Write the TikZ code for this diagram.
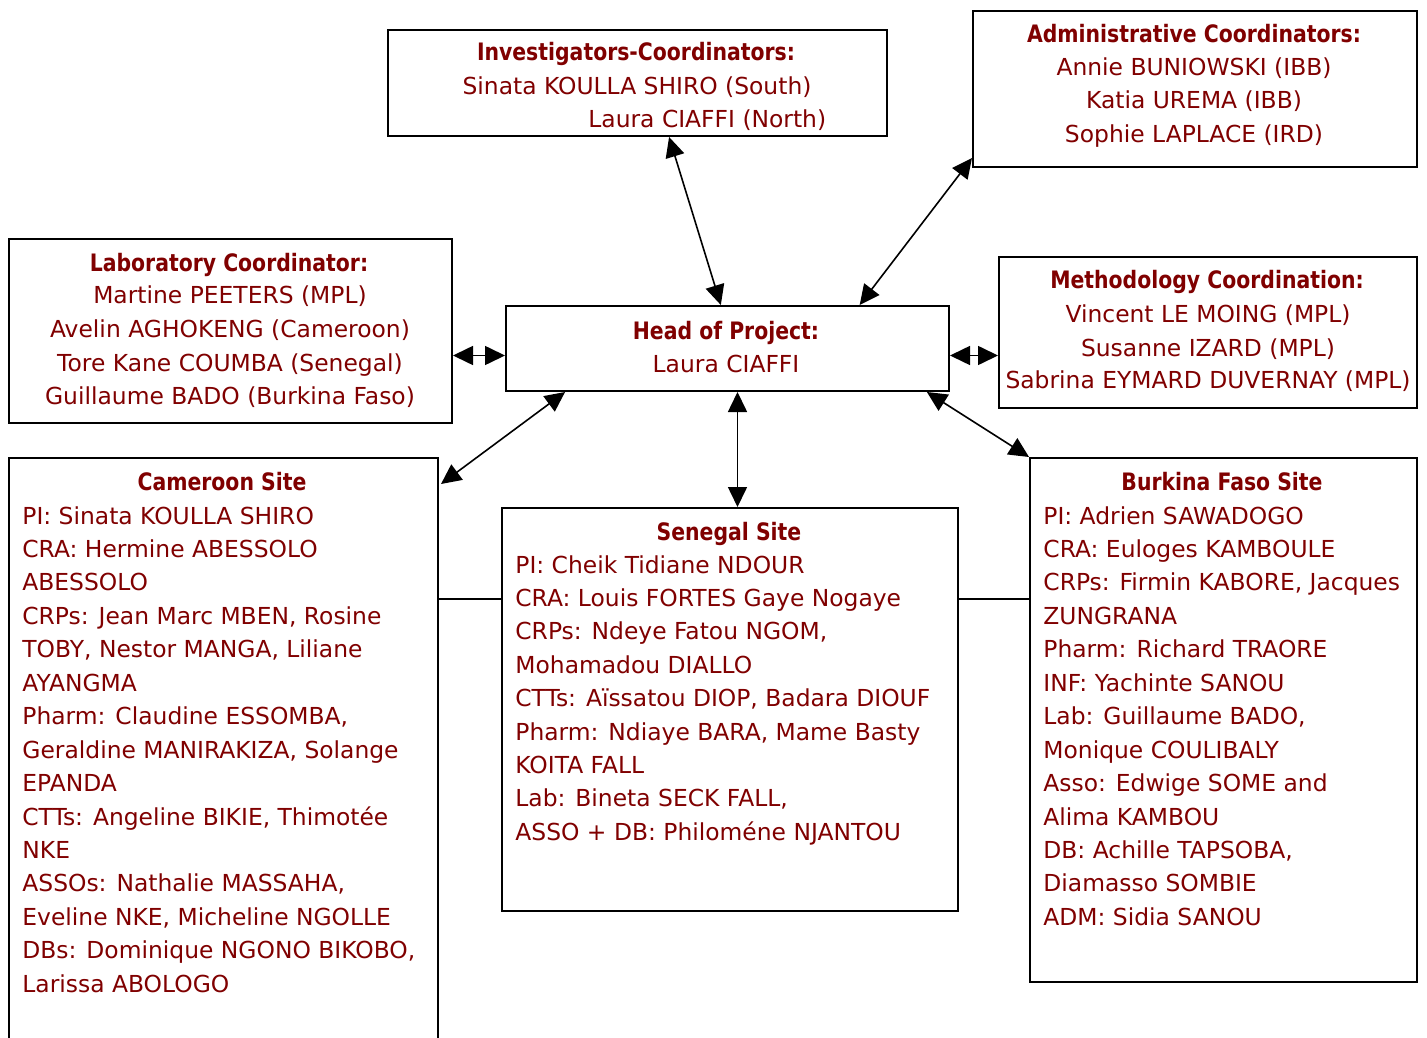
\documentclass[tikz,border=0pt]{standalone}
\usepackage{fontspec}
\setmainfont{DejaVu Sans}
\newfontfamily\titlefont[FakeStretch=0.85]{DejaVu Sans}
\usetikzlibrary{arrows.meta,calc}
\definecolor{txt}{RGB}{128,0,0}
\tikzset{
  box/.style={draw, line width=1pt, inner sep=0pt, anchor=north west},
  ln/.style={text=txt, font=\fontsize{11.7}{16}\selectfont, inner sep=0pt, anchor=base west},
  lc/.style={ln, anchor=base},
  ttl/.style={text=txt, font=\fontsize{12}{16}\selectfont\titlefont\bfseries, inner sep=0pt, anchor=base},
  link/.style={line width=0.8pt, {Triangle[length=10pt,width=9.5pt]}-{Triangle[length=10pt,width=9.5pt]}},
  plainline/.style={line width=0.8pt}
}
\begin{document}
\begin{tikzpicture}[x=0.5pt,y=-0.5pt]
\fill[white] (0,0) rectangle (1427,1037);
\useasboundingbox (0,0) rectangle (1427,1037);
% boxes
\node[box, minimum width=249.5pt, minimum height=53pt] (inv) at (387,29) {};
\node[box, minimum width=222pt, minimum height=78pt] (adm) at (972,10) {};
\node[box, minimum width=221.5pt, minimum height=92pt] (lab) at (8,238) {};
\node[box, minimum width=221.5pt, minimum height=42.5pt] (head) at (505,305) {};
\node[box, minimum width=209pt, minimum height=75.5pt] (meth) at (998,256) {};
\node[box, minimum width=214.5pt, minimum height=300pt] (cam) at (8,457) {};
\node[box, minimum width=228pt, minimum height=201.5pt] (sen) at (501,507) {};
\node[box, minimum width=193.5pt, minimum height=262pt] (bur) at (1029,457) {};
% investigators
\node[ttl] (inv0) at (636,61) {Investigators-Coordinators:};
\node[lc] (inv1) at (637,95) {Sinata KOULLA SHIRO (South)};
\node[ln] (inv2) at (588,128) {Laura CIAFFI (North)};
% admin
\node[ttl] (adm0) at (1194,43) {Administrative Coordinators:};
\node[lc] (adm1) at (1194,76) {Annie BUNIOWSKI (IBB)};
\node[lc] (adm2) at (1194,109) {Katia UREMA (IBB)};
\node[lc] (adm3) at (1194,143) {Sophie LAPLACE (IRD)};
% lab
\node[ttl] (lab0) at (229,271) {Laboratory Coordinator:};
\node[lc] (lab1) at (230,304) {Martine PEETERS (MPL)};
\node[lc] (lab2) at (230,337) {Avelin AGHOKENG (Cameroon)};
\node[lc] (lab3) at (230,371) {Tore Kane COUMBA (Senegal)};
\node[lc] (lab4) at (230,404) {Guillaume BADO (Burkina Faso)};
% head
\node[ttl] (head0) at (726,339) {Head of Project:};
\node[lc] (head1) at (726,372) {Laura CIAFFI};
% methodology
\node[ttl] (meth0) at (1207,289) {Methodology Coordination:};
\node[lc] (meth1) at (1208,322) {Vincent LE MOING (MPL)};
\node[lc] (meth2) at (1208,356) {Susanne IZARD (MPL)};
\node[lc] (meth3) at (1208,388) {Sabrina EYMARD DUVERNAY (MPL)};
% cameroon
\node[ttl] (cam0) at (222,490) {Cameroon Site};
\foreach \t [count=\i from 1] in {{PI: Sinata KOULLA SHIRO},{CRA: Hermine ABESSOLO},{ABESSOLO},{CRPs: Jean Marc MBEN, Rosine},{TOBY, Nestor MANGA, Liliane},{AYANGMA},{Pharm: Claudine ESSOMBA,},{Geraldine MANIRAKIZA, Solange},{EPANDA},{CTTs: Angeline BIKIE, Thimotée},{NKE},{ASSOs: Nathalie MASSAHA,},{Eveline NKE, Micheline NGOLLE},{DBs: Dominique NGONO BIKOBO,},{Larissa ABOLOGO}}
  \node[ln] (cam\i) at (22,{524+33.45*(\i-1)}) {\t};
% senegal
\node[ttl] (sen0) at (729,540) {Senegal Site};
\foreach \t [count=\i from 1] in {{PI: Cheik Tidiane NDOUR},{CRA: Louis FORTES Gaye Nogaye},{CRPs: Ndeye Fatou NGOM,},{Mohamadou DIALLO},{CTTs: Aïssatou DIOP, Badara DIOUF},{Pharm: Ndiaye BARA, Mame Basty},{KOITA FALL},{Lab: Bineta SECK FALL,},{ASSO + DB: Philoméne NJANTOU}}
  \node[ln] (sen\i) at (515,{573+33.4*(\i-1)}) {\t};
% burkina
\node[ttl] (bur0) at (1222,490) {Burkina Faso Site};
\foreach \t [count=\i from 1] in {{PI: Adrien SAWADOGO},{CRA: Euloges KAMBOULE},{CRPs: Firmin KABORE, Jacques},{ZUNGRANA},{Pharm: Richard TRAORE},{INF: Yachinte SANOU},{Lab: Guillaume BADO,},{Monique COULIBALY},{Asso: Edwige SOME and},{Alima KAMBOU},{DB: Achille TAPSOBA,},{Diamasso SOMBIE},{ADM: Sidia SANOU}}
  \node[ln] (bur\i) at (1043,{524+33.45*(\i-1)}) {\t};
% connectors
\draw[link] ($(inv.south west)!0.563!(inv.south east)$) -- ($(head.north west)!0.485!(head.north east)$);
\draw[link] ($(adm.south west)+(0,-10)$) -- ($(head.north west)!0.797!(head.north east)$);
\coordinate (hw) at ($(head.west)+(0,7)$);
\draw[link] (hw -| lab.east) -- (hw);
\coordinate (he) at ($(head.east)+(0,7)$);
\draw[link] (he) -- (he -| meth.west);
\draw[link] ($(head.south west)!0.135!(head.south east)$) -- ($(cam.north east)+(2,27)$);
\coordinate (hs) at ($(head.south)+(10,0)$);
\draw[link] (hs) -- (hs |- sen.north);
\draw[link] ($(head.south west)!0.948!(head.south east)$) -- (bur.north west);
\coordinate (sl) at ($(sen.north west)+(0,92)$);
\draw[plainline] (sl -| cam.east) -- (sl);
\coordinate (sr) at ($(sen.north east)+(0,92)$);
\draw[plainline] (sr) -- (sr -| bur.west);
\end{tikzpicture}
\end{document}
